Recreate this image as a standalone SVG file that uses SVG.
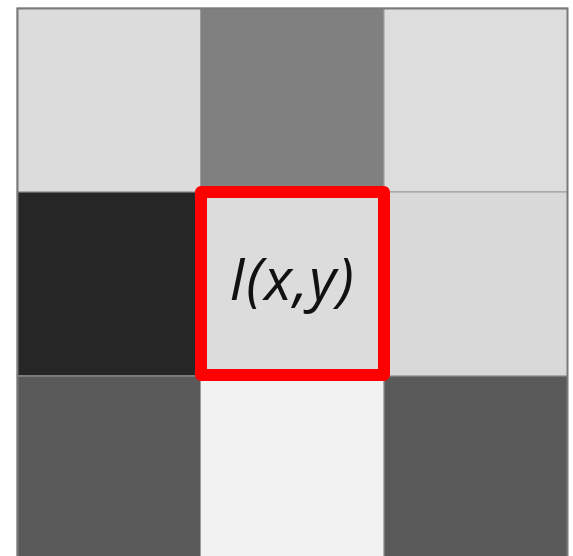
<svg xmlns="http://www.w3.org/2000/svg" width="573" height="556" viewBox="0 0 573 556">
<style>
.cell{stroke:#9a9a9a;stroke-width:1}
.lbl{font-family:"Open Sans","Liberation Sans",sans-serif;font-style:italic;font-size:58px;letter-spacing:1.4px;fill:#111;text-anchor:middle}
</style>
<rect width="573" height="556" fill="#ffffff"/>
<g id="grid">
<rect id="c00" class="cell" x="17" y="8" width="183.5" height="184" fill="#dcdcdc"/>
<rect id="c01" class="cell" x="200.5" y="8" width="183.5" height="184" fill="#808080"/>
<rect id="c02" class="cell" x="384" y="8" width="183.5" height="184" fill="#dddddd"/>
<rect id="c10" class="cell" x="17" y="192" width="183.5" height="184" fill="#262626"/>
<rect id="c11" class="cell" x="200.5" y="192" width="183.5" height="184" fill="#dcdcdc"/>
<rect id="c12" class="cell" x="384" y="192" width="183.5" height="184" fill="#d9d9d9"/>
<rect id="c20" class="cell" x="17" y="376" width="183.5" height="184" fill="#5a5a5a"/>
<rect id="c21" class="cell" x="200.5" y="376" width="183.5" height="184" fill="#f2f2f2"/>
<rect id="c22" class="cell" x="384" y="376" width="183.5" height="184" fill="#5a5a5a"/>
</g>
<path d="M17.5 560V8.5H567.5V560" fill="none" stroke="#7a7a7a" stroke-width="2"/>
<g id="highlight">
<rect x="201" y="192" width="183" height="183" fill="none" stroke="#ff0000" stroke-width="12" stroke-linejoin="round"/>
<text class="lbl" x="292.2" y="300">I(x,y)</text>
</g>
</svg>
